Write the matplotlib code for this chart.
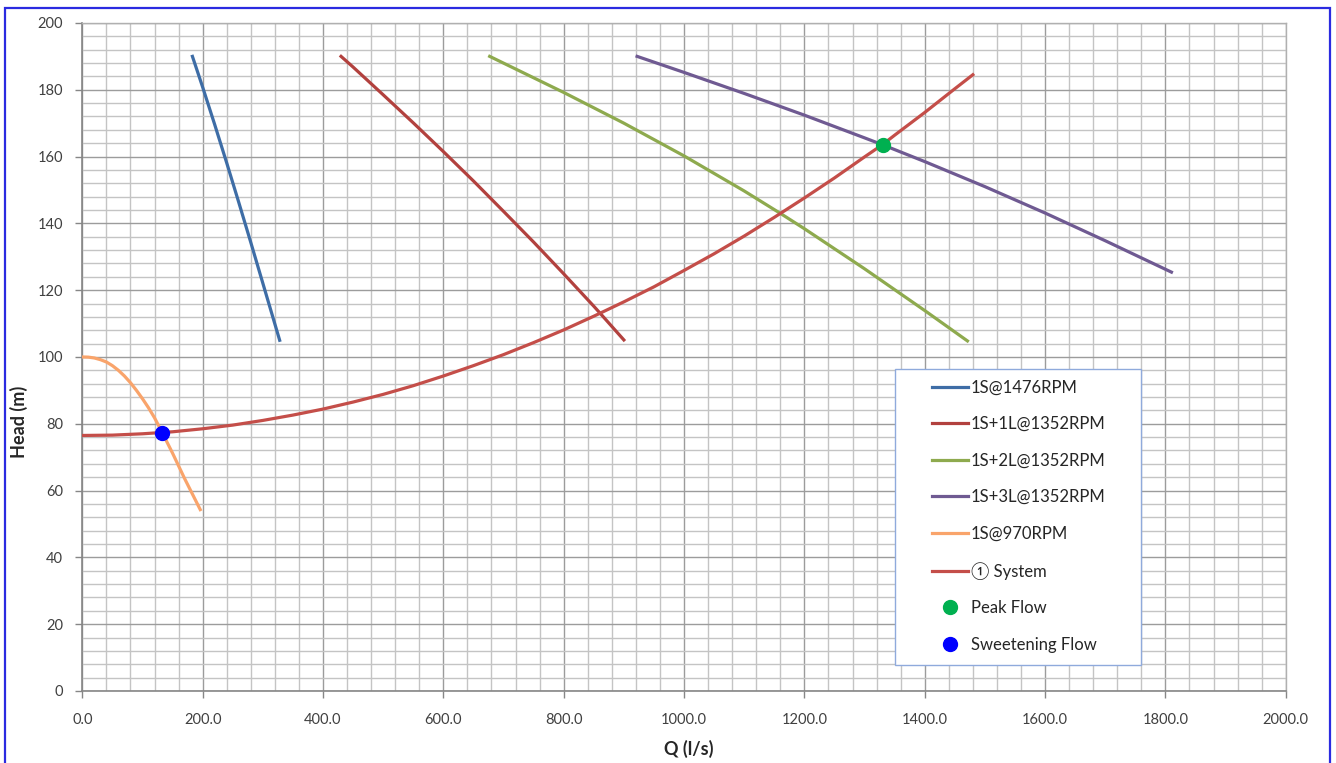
import matplotlib
matplotlib.use("Agg")
import matplotlib.pyplot as plt
from matplotlib.ticker import MultipleLocator, FormatStrFormatter
from matplotlib.patches import Rectangle

plt.rcParams['font.family'] = ['Lato', 'Noto Sans CJK SC', 'DejaVu Sans']

# Pump curves: flow Q (l/s) and head (m)
q_1s_1476 = [183, 200, 220, 240, 260, 280, 300, 328]
h_1s_1476 = [190, 180.8, 169.6, 158.1, 146.3, 134.3, 122.1, 105]

q_1s1l_1352 = [430, 450, 500, 550, 600, 650, 700, 750, 800, 850, 861, 900]
h_1s1l_1352 = [190, 186.8, 178.5, 170.1, 161.5, 152.7, 143.6, 134.4, 124.9,
               115.2, 113.0, 105.1]

q_1s2l_1352 = [677, 800, 900, 1000, 1100, 1160, 1200, 1300, 1400, 1471]
h_1s2l_1352 = [190, 179.2, 170.0, 160.2, 149.7, 143.0, 138.4, 126.4, 113.9, 104.8]

q_1s3l_1352 = [922, 1000, 1100, 1200, 1300, 1329, 1400, 1500, 1600, 1700, 1810]
h_1s3l_1352 = [190, 185.2, 178.9, 172.4, 165.6, 163.6, 158.5, 151.0, 143.1,
               134.8, 125.4]

q_1s_970 = [0, 10, 20, 30, 40, 50, 60, 70, 80, 90, 100, 110, 120, 133,
            150, 170, 196]
h_1s_970 = [100, 99.95, 99.7, 99.2, 98.5, 97.4, 96.0, 94.3, 92.3, 90.0,
            87.5, 84.8, 81.8, 77.3, 71.2, 63.6, 54.3]

# System curve
q_system = [0, 50, 100, 150, 200, 250, 300, 350, 400, 450, 500, 550, 600,
            650, 700, 750, 800, 850, 900, 950, 1000, 1050, 1100, 1150, 1200,
            1250, 1300, 1330, 1350, 1400, 1450, 1480]
h_system = [76.5, 76.6, 77.0, 77.6, 78.5, 79.6, 81.0, 82.6, 84.4, 86.5, 88.8,
            91.4, 94.3, 97.4, 100.7, 104.3, 108.1, 112.2, 116.5, 121.0, 125.9,
            130.9, 136.2, 141.8, 147.6, 153.6, 159.9, 163.6, 166.4, 173.2,
            180.3, 184.5]

# Duty points
peak_flow = (1330, 163.6)
sweetening_flow = (133, 77.3)

labels = ['1S@1476RPM', '1S+1L@1352RPM', '1S+2L@1352RPM', '1S+3L@1352RPM',
          '1S@970RPM', '\u2460 System', 'Peak Flow', 'Sweetening Flow']

fig = plt.figure(figsize=(13.36, 7.63), dpi=100)
ax = fig.add_axes([0.0616, 0.0944, 0.9008, 0.8755])

lw = 2.3
ax.plot(q_1s_1476, h_1s_1476, color='#3E6DA6', lw=lw, label=labels[0], zorder=3)
ax.plot(q_1s1l_1352, h_1s1l_1352, color='#B2413E', lw=lw, label=labels[1], zorder=3)
ax.plot(q_1s2l_1352, h_1s2l_1352, color='#8EAA4E', lw=lw, label=labels[2], zorder=3)
ax.plot(q_1s3l_1352, h_1s3l_1352, color='#6F5A92', lw=lw, label=labels[3], zorder=3)
ax.plot(q_1s_970, h_1s_970, color='#F9A46B', lw=lw, label=labels[4], zorder=3)
ax.plot(q_system, h_system, color='#C44E49', lw=lw, label=labels[5], zorder=3)
ax.plot([peak_flow[0]], [peak_flow[1]], 'o', color='#00B050', ms=10,
        ls='none', label=labels[6], zorder=4)
ax.plot([sweetening_flow[0]], [sweetening_flow[1]], 'o', color='#0000FF', ms=10,
        ls='none', label=labels[7], zorder=4)

ax.set_xlim(0, 2000)
ax.set_ylim(0, 200)
ax.xaxis.set_major_locator(MultipleLocator(200))
ax.xaxis.set_minor_locator(MultipleLocator(40))
ax.yaxis.set_major_locator(MultipleLocator(20))
ax.yaxis.set_minor_locator(MultipleLocator(4))
ax.xaxis.set_major_formatter(FormatStrFormatter('%.1f'))
ax.yaxis.set_major_formatter(FormatStrFormatter('%d'))

ax.grid(which='major', color='#9c9c9c', lw=1.0, zorder=0)
ax.grid(which='minor', color='#c4c4c4', lw=1.0, zorder=0)
ax.set_axisbelow(True)

for side in ['top', 'right']:
    ax.spines[side].set_color('#b0b0b0')
    ax.spines[side].set_linewidth(1.0)
for side in ['left', 'bottom']:
    ax.spines[side].set_color('#868686')
    ax.spines[side].set_linewidth(1.2)

ax.tick_params(which='major', direction='out', length=5, width=1,
               color='#868686', labelsize=10.5, labelcolor='#404040')
ax.tick_params(axis='x', which='major', pad=11)
ax.tick_params(axis='y', which='major', pad=9)
ax.tick_params(which='minor', length=0)

ax.set_xlabel('Q (l/s)', fontsize=13, fontweight='bold', color='#262626')
ax.set_ylabel('Head (m)', fontsize=13, fontweight='bold', color='#262626')
ax.xaxis.set_label_coords(0.504, -0.0734)
ax.yaxis.set_label_coords(-0.045, 0.403)

# Legend box drawn as its own frame, entries placed inside it
ax.add_patch(Rectangle((0.6753, 0.0389), 0.2044, 0.4431, transform=ax.transAxes,
                       facecolor='white', edgecolor='#8faadc', lw=1.0,
                       zorder=5, clip_on=False))
leg = ax.legend(loc='upper left', bbox_to_anchor=(0.706, 0.4663),
                fontsize=12, frameon=False, handlelength=2.15,
                labelspacing=1.23, borderpad=0.0, handletextpad=0.18,
                borderaxespad=0.0)
leg.set_zorder(6)
for t in leg.get_texts():
    t.set_color('#262626')

# Outer border of the chart area
fig.patches.append(Rectangle((5 / 1336, -0.02), 1325 / 1336, 1.02 - 8 / 763,
                             transform=fig.transFigure, fill=False,
                             edgecolor='#2B2BE0', lw=1.6, clip_on=False))

fig.savefig('out.png', dpi=100)
